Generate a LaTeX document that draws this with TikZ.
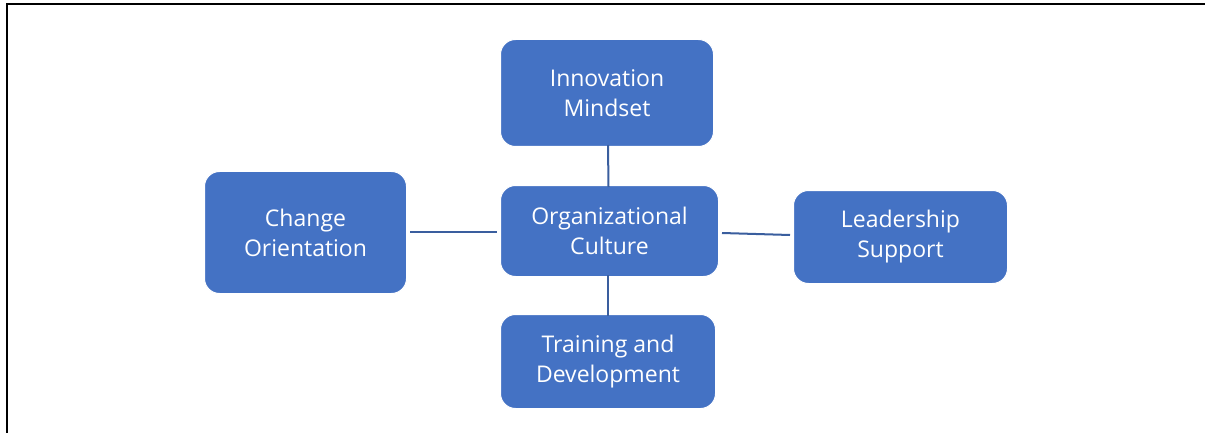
\documentclass[tikz,border=0pt]{standalone}
\usepackage{fontspec}
\setmainfont{Open Sans}
\definecolor{boxblue}{HTML}{4472C4}
\definecolor{linkblue}{HTML}{3A5E9E}
\begin{document}
\begin{tikzpicture}[x=1pt,y=-1pt,
  box/.style={draw=white, line width=1pt, fill=boxblue, rounded corners=15pt, text=white,
    align=center, inner sep=0pt, font=\fontsize{23}{30}\selectfont},
  link/.style={draw=linkblue, line width=2pt}]
\useasboundingbox (0,0) rectangle (1205,433);
\draw[line width=1.5pt] (7,433) -- (7,4) -- (1205,4);
\node[box, minimum width=213pt, minimum height=107pt] (inn) at (607,93) {Innovation\\Mindset};
\node[box, minimum width=202pt, minimum height=122pt] (chg) at (305.5,232.5) {Change\\Orientation};
\node[box, minimum width=218pt, minimum height=91pt] (org) at (609.5,231) {Organizational\\Culture};
\node[box, minimum width=214pt, minimum height=93pt] (lead) at (900.5,237) {Leadership\\Support};
\node[box, minimum width=215pt, minimum height=94pt] (trn) at (608,361.5) {Training and\\Development};
\draw[link] ([xshift=1pt,yshift=2pt]inn.south) -- ([xshift=-1pt,yshift=-2pt]org.north);
\draw[link] ([xshift=3pt]chg.east |- 0,231.5) -- ([xshift=-3pt]org.west |- 0,231.5);
\draw[link] ([xshift=3pt]org.east |- 0,233) -- ([xshift=-3pt]lead.west |- 0,235);
\draw[link] ([xshift=-1.5pt,yshift=2pt]org.south) -- ([yshift=-2pt]trn.north);
\end{tikzpicture}
\end{document}
